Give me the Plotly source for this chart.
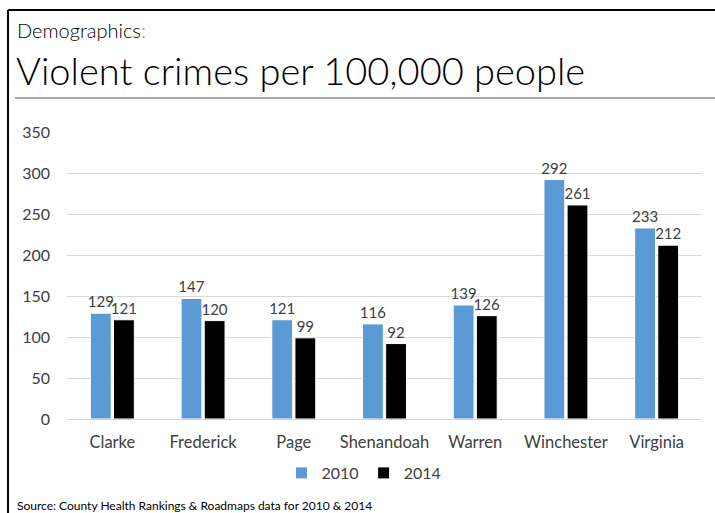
import plotly.graph_objects as go

categories = ["Clarke", "Frederick", "Page", "Shenandoah", "Warren", "Winchester", "Virginia"]
values_2010 = [129, 147, 121, 116, 139, 292, 233]
values_2014 = [121, 120, 99, 92, 126, 261, 212]
y_ticks = [0, 50, 100, 150, 200, 250, 300, 350]

FONT = "Lato"
TXT = "#404040"

W, H = 715, 513
L, R, T, B = 67, 13, 132, 94
pw, ph = W - L - R, H - T - B

def px(x):
    return (x - L) / pw

def py(y):
    return (H - B - y) / ph

fig = go.Figure()
fig.add_trace(go.Bar(
    name="2010", x=categories, y=values_2010,
    marker=dict(color="#5B9BD5", line=dict(color="white", width=1)),
    text=[str(v) for v in values_2010], textposition="outside",
    textfont=dict(family=FONT, size=15, color=TXT),
    cliponaxis=False, constraintext="none",
))
fig.add_trace(go.Bar(
    name="2014", x=categories, y=values_2014,
    marker=dict(color="#000000", line=dict(color="white", width=1)),
    text=[str(v) for v in values_2014], textposition="outside",
    textfont=dict(family=FONT, size=15, color=TXT),
    cliponaxis=False, constraintext="none",
))

fig.update_layout(
    width=W, height=H,
    margin=dict(l=L, r=R, t=T, b=B, pad=0),
    paper_bgcolor="white", plot_bgcolor="white",
    barmode="group", bargap=0.49, bargroupgap=0.1,
    font=dict(family=FONT, color=TXT, size=16),
    showlegend=True,
    legend=dict(orientation="h", x=px(364), xanchor="center", y=py(473), yanchor="middle",
                font=dict(family=FONT, size=16, color=TXT), traceorder="normal",
                itemwidth=30, bgcolor="rgba(0,0,0,0)"),
    xaxis=dict(showgrid=False, showline=True, linecolor="#D9D9D9", linewidth=1,
               tickfont=dict(family=FONT, size=16.5, color=TXT), ticks="", ticklabelstandoff=8),
    yaxis=dict(range=[0, 350], tickvals=y_ticks, showgrid=True, gridcolor="#D9D9D9", gridwidth=1,
               zeroline=False, showline=False, tickfont=dict(family=FONT, size=16, color=TXT),
               ticks="", ticklabelstandoff=16),
)

shapes = [
    dict(type="line", xref="paper", yref="paper", x0=px(8), x1=px(8), y0=py(10), y1=py(H + 5),
         line=dict(color="black", width=2)),
    dict(type="line", xref="paper", yref="paper", x0=px(8), x1=px(W + 5), y0=py(10), y1=py(10),
         line=dict(color="black", width=2)),
    dict(type="line", xref="paper", yref="paper", x0=px(15), x1=px(W + 5), y0=py(98), y1=py(98),
         line=dict(color="#8C8C8C", width=1.5)),
]
fig.update_layout(shapes=shapes)

fig.add_annotation(xref="paper", yref="paper", x=px(15), y=py(30), xanchor="left", yanchor="middle",
                   text="Demographics<span style='color:#5B9BD5'>:</span>", showarrow=False,
                   font=dict(family=FONT, size=20, color="black", weight=300))
fig.add_annotation(xref="paper", yref="paper", x=px(14), y=py(70), xanchor="left", yanchor="middle",
                   text="Violent crimes per 100,000 people", showarrow=False,
                   font=dict(family=FONT, size=38, color="black", weight=300))
fig.add_annotation(xref="paper", yref="paper", x=px(15), y=py(505), xanchor="left", yanchor="middle",
                   text="Source: County Health Rankings & Roadmaps data for 2010 & 2014", showarrow=False,
                   font=dict(family=FONT, size=12, color="black"))

fig.write_html("out.html", config={"displayModeBar": False},
               post_script="document.body.style.margin='0';document.body.style.overflow='hidden';")
